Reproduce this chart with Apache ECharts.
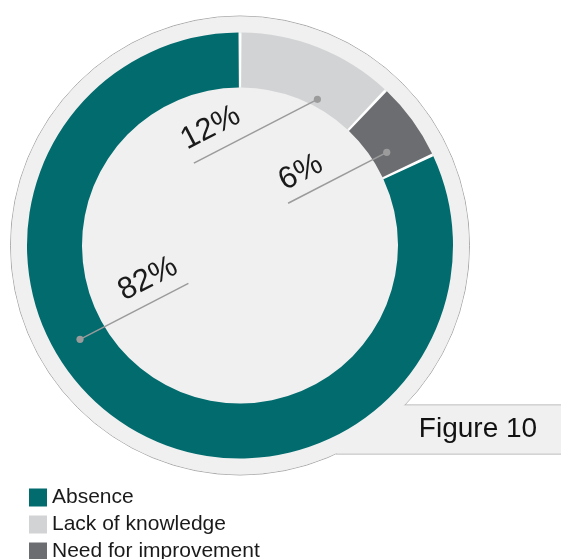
<!DOCTYPE html>
<html>
<head>
<meta charset="utf-8">
<script src="https://cdn.jsdelivr.net/npm/echarts@6/dist/echarts.min.js"></script>
<style>
  html, body { margin: 0; padding: 0; background: #ffffff; }
  #chart { width: 561px; height: 559px; }
</style>
</head>
<body>
<div id="chart"></div>
<script>
// Categories and their shares (percent)
const categories = ['Absence', 'Lack of knowledge', 'Need for improvement'];
const shares = [82, 12, 6];
// Order the ring is drawn in, clockwise from twelve o'clock
const sliceOrder = [1, 2, 0];
const colors = ['#016b6e', '#d2d3d5', '#6c6d71'];
const figureTitle = 'Figure 10';

// Ring geometry
const CX = 240, CY = 245.5, R_OUT = 213, R_IN = 158, R_BG = 229.5;

// Callout placement per category (same order as categories):
// dot angle (deg, counter-clockwise from 3 o'clock), dot radius,
// leader length, direction of the leader from the dot (+1 up-right, -1 down-left),
// distance of the label start from the lower-left end of the leader, lift above the leader
const callouts = [
  { angle: 210.4, radius: 185.5, len: 122, toward: 1, textAt: 57, lift: 7 },
  { angle: 62.1, radius: 165.4, len: 139, toward: -1, textAt: 0, lift: 8 },
  { angle: 32.4, radius: 173.8, len: 111, toward: -1, textAt: 3, lift: 6 }
];
const TILT = 27.3 * Math.PI / 180;

const chart = echarts.init(document.getElementById('chart'), null, { renderer: 'canvas' });

const ux = Math.cos(TILT), uy = -Math.sin(TILT);   // along the leader, up-right
const nx = -Math.sin(TILT), ny = -Math.cos(TILT);  // perpendicular, above the leader

const graphics = [
  // backdrop disc and title tab, outlined as one shape
  { type: 'circle', z: 0, shape: { cx: CX, cy: CY, r: R_BG }, style: { fill: '#f0f0f0', stroke: '#a9a9a9', lineWidth: 1 } },
  { type: 'rect', z: 0, shape: { x: 336, y: 405, width: 240, height: 49 }, style: { fill: '#f0f0f0', stroke: '#a9a9a9', lineWidth: 1 } },
  { type: 'circle', z: 0, shape: { cx: CX, cy: CY, r: R_BG - 0.5 }, style: { fill: '#f0f0f0' } },
  { type: 'rect', z: 0, shape: { x: 336.5, y: 405.5, width: 240, height: 48 }, style: { fill: '#f0f0f0' } },
  // white underlay so the gaps between slices read white
  { type: 'ring', z: 1, shape: { cx: CX, cy: CY, r: R_OUT - 1, r0: R_IN + 1 }, style: { fill: '#ffffff' } },
  {
    type: 'text', z: 10, x: 478, y: 429,
    style: { text: figureTitle, fontSize: 28, fontFamily: 'Liberation Sans, Arial, sans-serif', fill: '#111111', align: 'center', verticalAlign: 'middle' }
  }
];

categories.forEach((name, i) => {
  const c = callouts[i];
  const a = c.angle * Math.PI / 180;
  const dx = CX + c.radius * Math.cos(a);
  const dy = CY - c.radius * Math.sin(a);
  const ex = dx + c.toward * c.len * ux;
  const ey = dy + c.toward * c.len * uy;
  const lx = c.toward > 0 ? dx : ex;
  const ly = c.toward > 0 ? dy : ey;
  graphics.push({ type: 'line', z: 10, shape: { x1: dx, y1: dy, x2: ex, y2: ey }, style: { stroke: '#9b9b9b', lineWidth: 1.5 } });
  graphics.push({ type: 'circle', z: 11, shape: { cx: dx, cy: dy, r: 3.6 }, style: { fill: '#9b9b9b' } });
  graphics.push({
    type: 'text', z: 12,
    x: lx + c.textAt * ux + c.lift * nx,
    y: ly + c.textAt * uy + c.lift * ny,
    rotation: TILT,
    style: {
      text: shares[i] + '%', fontSize: 31,
      fontFamily: 'Liberation Sans, Arial, sans-serif', fill: '#1a1a1a',
      align: 'left', verticalAlign: 'bottom'
    }
  });
});

// one legend block per row keeps the three entries stacked in a single column
const legendRowTop = [487, 514, 541];
const legends = categories.map((name, i) => ({
  orient: 'vertical', left: 29, top: legendRowTop[i], padding: 0,
  itemWidth: 18, itemHeight: 18, icon: 'rect',
  selectedMode: false,
  data: [name],
  textStyle: { fontSize: 21, color: '#1a1a1a', fontFamily: 'Liberation Sans, Arial, sans-serif' }
}));

chart.setOption({
  animation: false,
  legend: legends,
  graphic: { elements: graphics },
  series: [{
    type: 'pie', z: 2, silent: true,
    center: [CX, CY], radius: [R_IN, R_OUT],
    startAngle: 90, clockwise: true, padAngle: 0.8,
    label: { show: false }, labelLine: { show: false },
    data: sliceOrder.map(i => ({ name: categories[i], value: shares[i], itemStyle: { color: colors[i] } }))
  }]
});
</script>
</body>
</html>
